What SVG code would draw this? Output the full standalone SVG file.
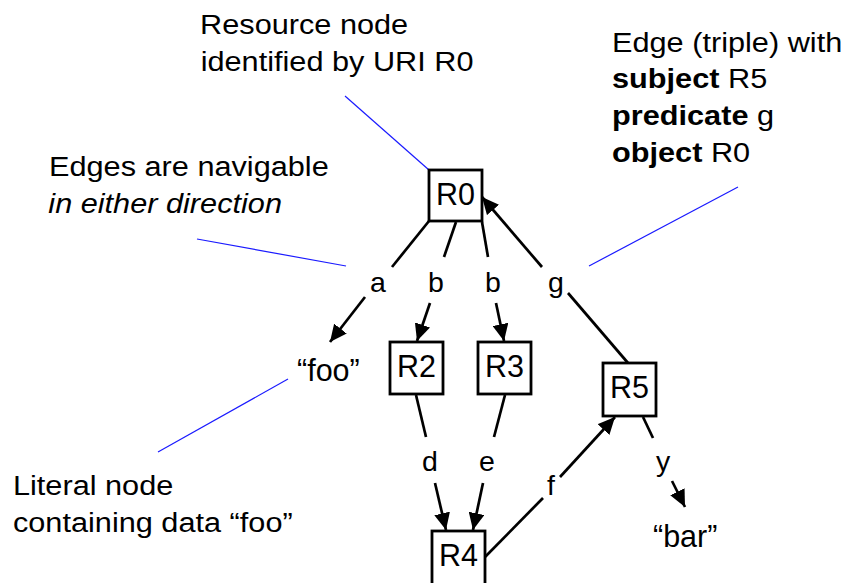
<svg xmlns="http://www.w3.org/2000/svg" width="848" height="583" viewBox="0 0 848 583">
  <style>
    .box { fill: #ffffff; stroke: #000000; stroke-width: 2.8; }
    .edge { fill: none; stroke: #000000; stroke-width: 2.7; }
    .callout { fill: none; stroke: #1a1aff; stroke-width: 1.2; }
    .node-label { font-family: "Liberation Sans", Arial, sans-serif; font-size: 30.5px; fill: #000; text-anchor: middle; }
    .edge-label { font-family: "Liberation Sans", Arial, sans-serif; font-size: 28.5px; fill: #000; text-anchor: middle; }
    .literal { font-family: "Liberation Sans", Arial, sans-serif; font-size: 30.5px; fill: #000; }
    .note { font-family: "Liberation Sans", Arial, sans-serif; font-size: 27px; fill: #000; }
    .b { font-weight: bold; }
  </style>
  <defs>
    <marker id="arrow" viewBox="0 0 17 16" refX="17" refY="8" markerWidth="17" markerHeight="16" markerUnits="userSpaceOnUse" orient="auto">
      <path d="M0,0 L17,8 L0,16 z" fill="#000"/>
    </marker>
  </defs>

  <!-- callout leader lines -->
  <g id="callouts">
    <line class="callout" x1="345" y1="96" x2="429" y2="170"/>
    <line class="callout" x1="197" y1="239" x2="346" y2="266"/>
    <line class="callout" x1="738" y1="187" x2="589" y2="266"/>
    <line class="callout" x1="288" y1="379" x2="158" y2="452"/>
  </g>

  <!-- edges, each split around its predicate label -->
  <g id="connectors">
    <line class="edge" x1="429" y1="221" x2="392" y2="267"/>
    <line class="edge" x1="365" y1="297" x2="330" y2="342" marker-end="url(#arrow)"/>

    <line class="edge" x1="456" y1="222" x2="444" y2="257"/>
    <line class="edge" x1="430" y1="303" x2="417" y2="341" marker-end="url(#arrow)"/>

    <line class="edge" x1="482" y1="222" x2="488" y2="257"/>
    <line class="edge" x1="496" y1="303" x2="504" y2="341" marker-end="url(#arrow)"/>

    <line class="edge" x1="628" y1="363" x2="568" y2="293"/>
    <line class="edge" x1="542" y1="267" x2="482" y2="197" marker-end="url(#arrow)"/>

    <line class="edge" x1="416" y1="395" x2="426" y2="437"/>
    <line class="edge" x1="435" y1="483" x2="446" y2="530" marker-end="url(#arrow)"/>

    <line class="edge" x1="505" y1="395" x2="494" y2="437"/>
    <line class="edge" x1="483" y1="483" x2="473" y2="530" marker-end="url(#arrow)"/>

    <line class="edge" x1="485" y1="557" x2="543" y2="498"/>
    <line class="edge" x1="560" y1="477" x2="615" y2="417" marker-end="url(#arrow)"/>

    <line class="edge" x1="643" y1="417" x2="653" y2="438"/>
    <line class="edge" x1="672" y1="481" x2="685" y2="507" marker-end="url(#arrow)"/>
  </g>

  <!-- predicate labels -->
  <g id="edge-labels">
    <text class="edge-label" x="378" y="292">a</text>
    <text class="edge-label" x="436" y="292">b</text>
    <text class="edge-label" x="493" y="292">b</text>
    <text class="edge-label" x="556" y="292">g</text>
    <text class="edge-label" x="430" y="471">d</text>
    <text class="edge-label" x="487" y="471">e</text>
    <text class="edge-label" x="551" y="495">f</text>
    <text class="edge-label" x="663" y="471">y</text>
  </g>

  <!-- resource nodes -->
  <g id="R0">
    <rect class="box" x="429" y="170" width="53" height="51"/>
    <text class="node-label" x="455.5" y="205">R0</text>
  </g>
  <g id="R2">
    <rect class="box" x="390" y="342" width="53" height="52"/>
    <text class="node-label" x="416.5" y="377">R2</text>
  </g>
  <g id="R3">
    <rect class="box" x="478" y="342" width="53" height="52"/>
    <text class="node-label" x="504.5" y="377">R3</text>
  </g>
  <g id="R5">
    <rect class="box" x="603" y="363" width="53" height="53"/>
    <text class="node-label" x="629.5" y="398">R5</text>
  </g>
  <g id="R4">
    <rect class="box" x="432" y="531" width="53" height="56"/>
    <text class="node-label" x="458.5" y="566">R4</text>
  </g>

  <!-- literal nodes -->
  <g id="foo">
    <text class="literal" x="297" y="381">“foo”</text>
  </g>
  <g id="bar">
    <text class="literal" x="653" y="547">“bar”</text>
  </g>

  <!-- annotations (slightly widened type) -->
  <g id="annotations" transform="scale(1.137 1)">
    <text class="note" x="176" y="34">Resource node</text>
    <text class="note" x="176.5" y="71">identified by URI R0</text>

    <text class="note" x="43.1" y="176">Edges are navigable</text>
    <text class="note" x="42.5" y="213" font-style="italic">in either direction</text>

    <text class="note" x="538.3" y="52">Edge (triple) with</text>
    <text class="note" x="538.3" y="88"><tspan class="b">subject</tspan> R5</text>
    <text class="note" x="538.3" y="125"><tspan class="b">predicate</tspan> g</text>
    <text class="note" x="538.3" y="162"><tspan class="b">object</tspan> R0</text>

    <text class="note" x="11.4" y="495">Literal node</text>
    <text class="note" x="11.4" y="532">containing data “foo”</text>
  </g>
</svg>
